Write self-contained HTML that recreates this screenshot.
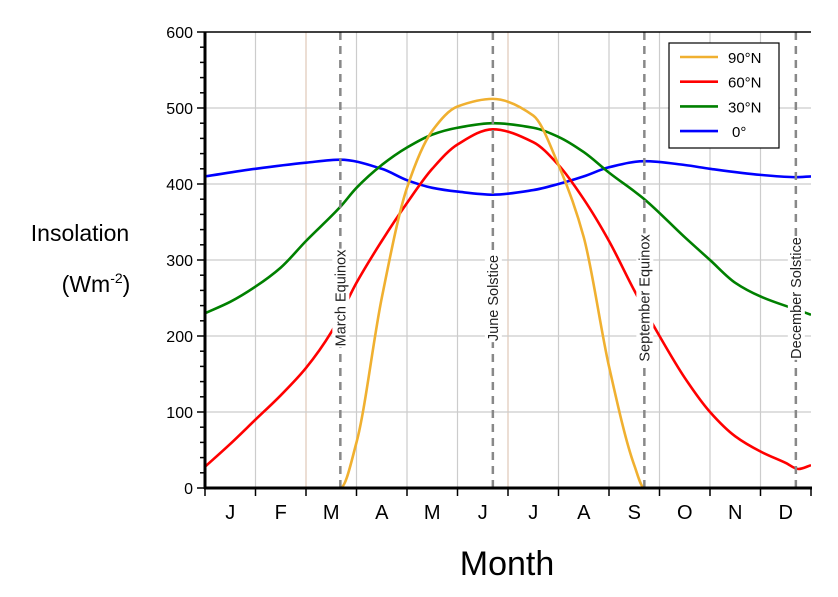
<!DOCTYPE html>
<html><head><meta charset="utf-8"><style>
body{margin:0;background:#fff;}
svg{display:block;font-family:"Liberation Sans",sans-serif;}
</style></head><body>
<svg id="chart" width="838" height="597"></svg>
<script>
const months=["J","F","M","A","M","J","J","A","S","O","N","D"];
const yTicks=[0,100,200,300,400,500,600];
const s90x=[0,2.68,3,3.5,4,4.5,5,5.7,6.5,7,7.5,8,8.5,8.7,12];
const s90y=[0,0,60,250,395,470,502,512,490,425,330,160,30,0,0];
const s60x=[0,0.5,1,1.5,2,2.5,3,3.5,4,4.5,5,5.7,6.5,7,7.5,8,8.5,9,9.5,10,10.5,11,11.5,11.75,12];
const s60y=[28,58,90,122,158,205,270,325,375,420,452,472,455,425,380,325,260,200,145,100,68,48,33,25,30];
const s30x=[0,0.5,1,1.5,2,2.68,3,3.5,4,4.5,5,5.7,6.5,7,7.5,8,8.7,9.5,10,10.5,11,11.7,12];
const s30y=[230,245,265,290,325,370,395,425,448,465,474,480,474,462,442,415,380,330,300,270,252,235,228];
const s0x=[0,1,2,2.68,3.5,4,4.5,5,5.7,6.5,7,7.5,8,8.7,9.5,10,11,11.7,12];
const s0y=[410,420,428,432,420,405,395,390,386,392,400,410,422,430,425,420,412,409,410];
const events=["March Equinox","June Solstice","September Equinox","December Solstice"];
const eventX=[2.68,5.7,8.7,11.7];
const seriesNames=["90°N","60°N","30°N","0°"];
const colors=["#f0b030","#ff0000","#008000","#0000ff"];

const L=205,R=811,T=32,B=488;
const sx=m=>L+m*(R-L)/12, sy=v=>B-v*(B-T)/600;
const svg=document.getElementById('chart');const NS="http://www.w3.org/2000/svg";
function mk(t,a,p){const e=document.createElementNS(NS,t);for(const k in a)e.setAttribute(k,a[k]);(p||svg).appendChild(e);return e;}
for(let i=1;i<12;i++){const g=mk('line',{x1:sx(i),x2:sx(i),y1:T,y2:B,stroke:(i==2||i==6)?'#e0c8b8':'#cccccc','stroke-width':1.2});
}
yTicks.forEach(v=>{if(v>0&&v<600){const g=mk('line',{x1:L,x2:R,y1:sy(v),y2:sy(v),stroke:'#cccccc','stroke-width':1.2});
}});
// monotone cubic
function path(xs,ys){const X=xs.map(sx),Y=ys.map(sy),n=X.length;const d=[],m=new Array(n);
for(let i=0;i<n-1;i++)d.push((Y[i+1]-Y[i])/(X[i+1]-X[i]));
m[0]=d[0];m[n-1]=d[n-2];
for(let i=1;i<n-1;i++){if(d[i-1]*d[i]<=0)m[i]=0;else{const w1=2*(X[i+1]-X[i])+(X[i]-X[i-1]),w2=(X[i+1]-X[i])+2*(X[i]-X[i-1]);m[i]=(w1+w2)/(w1/d[i-1]+w2/d[i]);}}
let s=`M${X[0]},${Y[0]}`;
for(let i=0;i<n-1;i++){const h=(X[i+1]-X[i])/3;s+=` C${X[i]+h},${Y[i]+m[i]*h} ${X[i+1]-h},${Y[i+1]-m[i+1]*h} ${X[i+1]},${Y[i+1]}`;}return s;}
const clip=mk('clipPath',{id:'c'});mk('rect',{x:L,y:T-5,width:R-L,height:B-T+5},clip);
const sdata=[[s90x,s90y],[s60x,s60y],[s30x,s30y],[s0x,s0y]];
[3,2,1,0].forEach(i=>{const p=mk('path',{d:path(sdata[i][0],sdata[i][1]),fill:'none',stroke:colors[i],'stroke-width':2.6,'clip-path':'url(#c)'});
});
eventX.forEach((x,i)=>{const l=mk('line',{x1:sx(x),x2:sx(x),y1:T,y2:B,stroke:'#888','stroke-width':2.5,'stroke-dasharray':'8,6'});

const g=mk('g',{transform:`translate(${sx(x)+5},298) rotate(-90)`});
const bg=mk('rect',{x:-70,y:-13,width:140,height:17,fill:'#fff'},g);
const t=mk('text',{x:0,y:0,'text-anchor':'middle','font-size':14.5,fill:'#222'},g);
t.textContent=events[i];
const w=t.getComputedTextLength();bg.setAttribute('x',-w/2-1);bg.setAttribute('width',w+2);});
mk('line',{x1:L,x2:L,y1:T,y2:B+1,stroke:'#000','stroke-width':3});
mk('line',{x1:L-1,x2:R+1,y1:B,y2:B,stroke:'#000','stroke-width':3});
mk('line',{x1:L,x2:R,y1:T,y2:T,stroke:'#000','stroke-width':1.5});
for(let v=0;v<=600;v+=20){const maj=v%100==0;mk('line',{x1:L-(maj?8:5),x2:L,y1:sy(v),y2:sy(v),stroke:'#000','stroke-width':1.5});}
yTicks.forEach(v=>{const t=mk('text',{x:L-12,y:sy(v)+6,'text-anchor':'end','font-size':16});t.textContent=v;
});
for(let i=0;i<=12;i++)mk('line',{x1:sx(i),x2:sx(i),y1:B,y2:B+8,stroke:'#000','stroke-width':1.5});
months.forEach((m,i)=>{const t=mk('text',{x:sx(i+0.5),y:519,'text-anchor':'middle','font-size':20});t.textContent=m;
});
let t=mk('text',{x:507,y:575,'text-anchor':'middle','font-size':34});t.textContent='Month';

t=mk('text',{x:80,y:241,'text-anchor':'middle','font-size':23});t.textContent='Insolation';

t=mk('text',{x:96,y:292,'text-anchor':'middle','font-size':23});t.innerHTML='(Wm<tspan dy="-9" font-size="14">-2</tspan><tspan dy="9">)</tspan>';

const lg=mk('g',{});
mk('rect',{x:669,y:43,width:110,height:105,fill:'#fff',stroke:'#000','stroke-width':1.2},lg);
seriesNames.forEach((n,i)=>{const y=57+i*24.7;
const e=mk('g',{},lg);
mk('line',{x1:680,x2:718,y1:y,y2:y,stroke:colors[i],'stroke-width':2.6},e);
const tt=mk('text',{x:i==3?732:728,y:y+6,'font-size':15},e);tt.textContent=n;});
</script>
</body></html>
